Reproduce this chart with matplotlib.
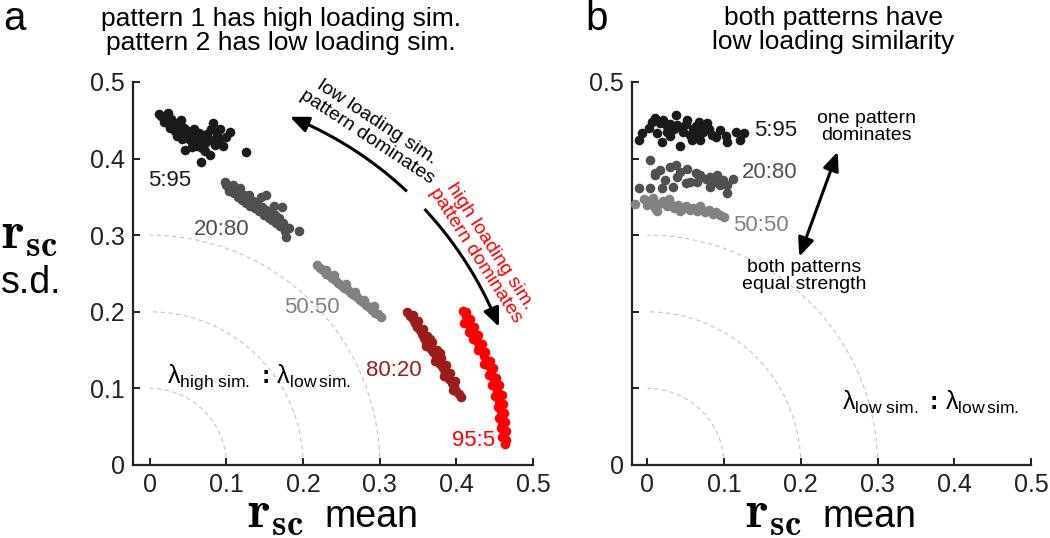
import numpy as np
import matplotlib.pyplot as plt

plt.rcParams['font.family'] = ['Liberation Sans', 'DejaVu Sans']
plt.rcParams['mathtext.fontset'] = 'custom'
plt.rcParams['mathtext.rm'] = 'Liberation Sans'
plt.rcParams['mathtext.it'] = 'Liberation Sans:italic'
plt.rcParams['mathtext.bf'] = 'Liberation Sans:bold'

# ---- panel a : one high-sim. pattern, one low-sim. pattern ----
a_5_95_x = [0.015, 0.018, 0.022, 0.025, 0.020, 0.028, 0.032, 0.030, 0.035, 0.038,
            0.040, 0.043, 0.045, 0.048, 0.050, 0.052, 0.055, 0.058, 0.060, 0.062,
            0.065, 0.068, 0.070, 0.072, 0.075, 0.078, 0.080, 0.083, 0.087, 0.090,
            0.096, 0.104, 0.126, 0.067, 0.078, 0.046, 0.085, 0.092, 0.055, 0.072,
            0.100, 0.035, 0.042, 0.026, 0.033, 0.012, 0.024, 0.040, 0.058, 0.064]
a_5_95_y = [0.455, 0.448, 0.456, 0.445, 0.452, 0.452, 0.440, 0.447, 0.446, 0.436,
            0.442, 0.432, 0.440, 0.428, 0.436, 0.424, 0.432, 0.420, 0.428, 0.416,
            0.424, 0.414, 0.428, 0.420, 0.432, 0.424, 0.438, 0.446, 0.431, 0.426,
            0.416, 0.435, 0.409, 0.396, 0.405, 0.411, 0.418, 0.438, 0.415, 0.410,
            0.428, 0.430, 0.425, 0.440, 0.436, 0.458, 0.460, 0.450, 0.438, 0.433]

a_20_80_x = [0.100, 0.103, 0.106, 0.110, 0.112, 0.115, 0.118, 0.120, 0.123, 0.126,
             0.128, 0.131, 0.134, 0.137, 0.140, 0.143, 0.146, 0.149, 0.152, 0.152,
             0.155, 0.158, 0.160, 0.163, 0.165, 0.168, 0.170, 0.172, 0.174, 0.176,
             0.178, 0.181, 0.194, 0.145, 0.162, 0.098, 0.108, 0.118, 0.130]
a_20_80_y = [0.366, 0.358, 0.362, 0.355, 0.360, 0.350, 0.356, 0.346, 0.352, 0.342,
             0.349, 0.338, 0.345, 0.335, 0.342, 0.331, 0.337, 0.327, 0.333, 0.352,
             0.323, 0.330, 0.320, 0.326, 0.316, 0.322, 0.312, 0.337, 0.316, 0.306,
             0.298, 0.310, 0.305, 0.350, 0.338, 0.370, 0.366, 0.361, 0.352]

a_50_50_x = [0.218, 0.222, 0.226, 0.230, 0.234, 0.238, 0.242, 0.246, 0.250, 0.254,
             0.258, 0.262, 0.266, 0.270, 0.274, 0.278, 0.282, 0.286, 0.290, 0.294,
             0.298, 0.302, 0.240, 0.256, 0.268, 0.280, 0.292, 0.230]
a_50_50_y = [0.261, 0.257, 0.255, 0.250, 0.248, 0.244, 0.241, 0.238, 0.235, 0.231,
             0.229, 0.225, 0.222, 0.219, 0.215, 0.213, 0.209, 0.206, 0.203, 0.199,
             0.197, 0.193, 0.248, 0.236, 0.226, 0.216, 0.207, 0.254]

a_80_20_x = [0.336, 0.340, 0.343, 0.346, 0.349, 0.352, 0.355, 0.358, 0.361, 0.364,
             0.367, 0.370, 0.373, 0.376, 0.379, 0.382, 0.385, 0.388, 0.391, 0.394,
             0.397, 0.400, 0.403, 0.406, 0.344, 0.350, 0.356, 0.362, 0.368, 0.375,
             0.380, 0.386, 0.392, 0.398, 0.360, 0.372, 0.384, 0.396, 0.378, 0.366]
a_80_20_y = [0.200, 0.194, 0.190, 0.186, 0.180, 0.176, 0.171, 0.166, 0.161, 0.157,
             0.151, 0.147, 0.141, 0.137, 0.132, 0.127, 0.122, 0.117, 0.112, 0.107,
             0.102, 0.097, 0.093, 0.089, 0.196, 0.188, 0.178, 0.168, 0.160, 0.150,
             0.140, 0.130, 0.120, 0.110, 0.155, 0.136, 0.116, 0.098, 0.146, 0.165]

a_95_5_x = [0.408, 0.412, 0.415, 0.418, 0.421, 0.424, 0.427, 0.430, 0.433, 0.436,
            0.439, 0.442, 0.445, 0.447, 0.449, 0.451, 0.453, 0.455, 0.456, 0.457,
            0.458, 0.459, 0.460, 0.461, 0.462, 0.462, 0.463, 0.413, 0.418, 0.423,
            0.428, 0.433, 0.438, 0.444, 0.448, 0.452, 0.456, 0.459, 0.461, 0.462,
            0.464, 0.465, 0.465, 0.410, 0.416, 0.422, 0.428, 0.436, 0.442, 0.447,
            0.451, 0.454, 0.456, 0.458, 0.459]
a_95_5_y = [0.201, 0.194, 0.188, 0.182, 0.176, 0.169, 0.162, 0.156, 0.149, 0.142,
            0.135, 0.129, 0.122, 0.116, 0.110, 0.104, 0.098, 0.091, 0.084, 0.077,
            0.070, 0.063, 0.056, 0.049, 0.042, 0.035, 0.028, 0.200, 0.190, 0.180,
            0.170, 0.158, 0.148, 0.136, 0.126, 0.114, 0.104, 0.092, 0.080, 0.068,
            0.056, 0.044, 0.032, 0.186, 0.174, 0.164, 0.150, 0.132, 0.118, 0.104,
            0.090, 0.076, 0.062, 0.048, 0.036]

# ---- panel b : both patterns low sim. ----
b_5_95_x = [-0.011, -0.007, 0.002, 0.006, 0.010, 0.017, 0.019, 0.026, 0.037, 0.039,
            0.043, 0.047, 0.052, 0.056, 0.063, 0.067, 0.073, 0.078, 0.084, 0.095,
            0.102, 0.104, 0.115, 0.121, 0.126, 0.030, 0.013, 0.058, 0.069, 0.021,
            0.030, 0.045, 0.060, 0.070, 0.035, 0.050, 0.080, 0.090, 0.025, 0.065]
b_5_95_y = [0.424, 0.433, 0.440, 0.448, 0.453, 0.446, 0.422, 0.435, 0.457, 0.444,
            0.416, 0.435, 0.450, 0.431, 0.442, 0.448, 0.435, 0.446, 0.431, 0.437,
            0.429, 0.422, 0.435, 0.424, 0.433, 0.429, 0.433, 0.424, 0.424, 0.450,
            0.445, 0.440, 0.438, 0.440, 0.438, 0.445, 0.438, 0.428, 0.442, 0.433]

b_20_80_x = [0.004, -0.011, 0.004, 0.010, 0.017, 0.023, 0.030, 0.037, 0.039, 0.043,
             0.052, 0.056, 0.063, 0.069, 0.076, 0.082, 0.087, 0.091, 0.098, 0.104,
             0.111, 0.019, 0.034, 0.050, 0.065, 0.082, 0.095, 0.104, 0.010]
b_20_80_y = [0.398, 0.361, 0.361, 0.381, 0.385, 0.372, 0.389, 0.392, 0.376, 0.383,
             0.387, 0.370, 0.381, 0.379, 0.374, 0.376, 0.370, 0.379, 0.372, 0.366,
             0.374, 0.361, 0.363, 0.368, 0.370, 0.363, 0.366, 0.355, 0.379]

b_50_50_x = [-0.016, -0.005, 0.000, 0.005, 0.010, 0.015, 0.020, 0.025, 0.030, 0.035,
             0.040, 0.045, 0.050, 0.055, 0.060, 0.065, 0.070, 0.075, 0.080, 0.085,
             0.090, 0.095, 0.100, 0.008, 0.028, 0.012, 0.042, 0.068]
b_50_50_y = [0.341, 0.347, 0.340, 0.344, 0.336, 0.341, 0.345, 0.338, 0.342, 0.336,
             0.340, 0.334, 0.338, 0.333, 0.336, 0.331, 0.334, 0.330, 0.333, 0.328,
             0.330, 0.326, 0.324, 0.348, 0.347, 0.332, 0.331, 0.338]

ratio_labels = ['5:95', '20:80', '50:50', '80:20', '95:5']
ratio_colors = ['#1a1a1a', '#505050', '#828282', '#9c1c1c', '#ff0000']
a_label_pos = [(0.026, 0.372), (0.094, 0.307), (0.212, 0.205), (0.319, 0.124), (0.423, 0.032)]
b_label_pos = [(0.167, 0.437), (0.160, 0.382), (0.148, 0.313)]

ring_radii = [0.1, 0.2, 0.3]
ticks = [0, 0.1, 0.2, 0.3, 0.4, 0.5]
dot_size = 48

fig = plt.figure(figsize=(10.5, 5.38), dpi=100)
ax_a = fig.add_axes([133 / 1050, 73 / 538, 400 / 1050, 383 / 538])
ax_b = fig.add_axes([632 / 1050, 73 / 538, 399 / 1050, 383 / 538])


def style_axes(ax, xmin, ylabels):
    th = np.linspace(0, np.pi / 2, 200)
    for r in ring_radii:
        ax.plot(r * np.cos(th), r * np.sin(th), color='#c4c4c4', lw=0.8,
                dashes=(4, 3), zorder=0)
    ax.set_xlim(xmin, 0.5)
    ax.set_ylim(0, 0.5)
    ax.set_xticks(ticks)
    ax.set_xticklabels(['0', '0.1', '0.2', '0.3', '0.4', '0.5'])
    ax.set_yticks(ticks)
    ax.set_yticklabels(ylabels)
    for s in ['top', 'right']:
        ax.spines[s].set_visible(False)
    for s in ['left', 'bottom']:
        ax.spines[s].set_linewidth(1.6)
        ax.spines[s].set_color('#222222')
    ax.tick_params(direction='in', length=5, width=1.4, labelsize=18, pad=6,
                   colors='#222222', labelcolor='#222222')


style_axes(ax_a, -0.022, ['0', '0.1', '0.2', '0.3', '0.4', '0.5'])
style_axes(ax_b, -0.02, ['0', '', '', '', '', '0.5'])

a_sets = [(a_5_95_x, a_5_95_y), (a_20_80_x, a_20_80_y), (a_50_50_x, a_50_50_y),
          (a_80_20_x, a_80_20_y), (a_95_5_x, a_95_5_y)]
for (xs, ys), col, lab, pos in zip(a_sets, ratio_colors, ratio_labels, a_label_pos):
    ax_a.scatter(xs, ys, s=dot_size, color=col, lw=0, zorder=3)
    ax_a.text(pos[0], pos[1], lab, color=col, fontsize=16, ha='center', va='center')

b_sets = [(b_5_95_x, b_5_95_y), (b_20_80_x, b_20_80_y), (b_50_50_x, b_50_50_y)]
for (xs, ys), col, lab, pos in zip(b_sets, ratio_colors, ratio_labels, b_label_pos):
    ax_b.scatter(xs, ys, s=dot_size, color=col, lw=0, zorder=3, clip_on=False)
    ax_b.text(pos[0], pos[1], lab, color=col, fontsize=16, ha='center', va='center')

# curved arrows in panel a
arc_r = 0.49
for a0, a1 in [(46.8, 68.1), (43.0, 21.6)]:
    step = np.sign(a1 - a0) * 3.0
    th = np.deg2rad(np.linspace(a0, a1 - step, 60))
    ax_a.plot(arc_r * np.cos(th), arc_r * np.sin(th), color='k', lw=2.2,
              solid_capstyle='butt')
    tip = np.deg2rad(a1)
    tail = np.deg2rad(a1 - step)
    ax_a.annotate('', xy=(arc_r * np.cos(tip), arc_r * np.sin(tip)),
                  xytext=(arc_r * np.cos(tail), arc_r * np.sin(tail)),
                  arrowprops=dict(arrowstyle='-|>,head_length=0.7,head_width=0.3',
                                  mutation_scale=16, color='k', lw=2.2,
                                  shrinkA=0, shrinkB=0))

ax_a.text(0.290, 0.438, 'low loading sim.\npattern dominates', rotation=-33.4,
          rotation_mode='anchor', ha='center', va='center', fontsize=14,
          linespacing=1.0)
ax_a.text(0.434, 0.280, 'high loading sim.\npattern dominates', rotation=-57.2,
          rotation_mode='anchor', ha='center', va='center', fontsize=14,
          color='#ff0000', linespacing=1.0)

ax_a.text(0.022, 0.107, r'$\mathrm{λ}_{\mathrm{high\ sim.}}\,\mathbf{:}\,\mathrm{λ}_{\mathrm{low\,sim.}}$',
          fontsize=18, ha='left', va='baseline')
ax_b.text(0.254, 0.072, r'$\mathrm{λ}_{\mathrm{low\ sim.}}\,\mathbf{:}\,\mathrm{λ}_{\mathrm{low\,sim.}}$',
          fontsize=18, ha='left', va='baseline')

# double arrow in panel b
ax_b.annotate('', xy=(0.248, 0.409), xytext=(0.198, 0.272),
              arrowprops=dict(arrowstyle='<|-|>,head_length=0.7,head_width=0.3',
                              mutation_scale=16, color='k', lw=2.2,
                              shrinkA=0, shrinkB=0))
ax_b.text(0.285, 0.441, 'one pattern\ndominates', fontsize=14, ha='center',
          va='center', linespacing=1.0)
ax_b.text(0.204, 0.247, 'both patterns\nequal strength', fontsize=14,
          ha='center', va='center', linespacing=1.0)

# titles and panel letters
fig.text(3 / 1050, 1 - 30 / 538, 'a', fontsize=29, ha='left', va='baseline')
fig.text(585 / 1050, 1 - 30 / 538, 'b', fontsize=29, ha='left', va='baseline')
fig.text(281 / 1050, 1 - 31 / 538, 'pattern 1 has high loading sim.\npattern 2 has low loading sim.',
         fontsize=19, ha='center', va='center', linespacing=0.95)
fig.text(833 / 1050, 1 - 30 / 538, 'both patterns have\nlow loading similarity',
         fontsize=19, ha='center', va='center', linespacing=0.95)

# axis labels
for cx in [333, 831]:
    fig.text((cx - 29) / 1050, 1 - 527 / 538, r'$\mathbf{r}_{\mathbf{sc}}$',
             fontsize=38, ha='right', va='baseline', math_fontfamily='cm')
    fig.text((cx - 9) / 1050, 1 - 527 / 538, 'mean', fontsize=27,
             ha='left', va='baseline')
fig.text(1 / 1050, 1 - 248 / 538, r'$\mathbf{r}_{\mathbf{sc}}$', fontsize=38,
         ha='left', va='baseline', math_fontfamily='cm')
fig.text(1 / 1050, 1 - 293 / 538, 's.d.', fontsize=27, ha='left', va='baseline')

fig.savefig('out.png', dpi=100)
